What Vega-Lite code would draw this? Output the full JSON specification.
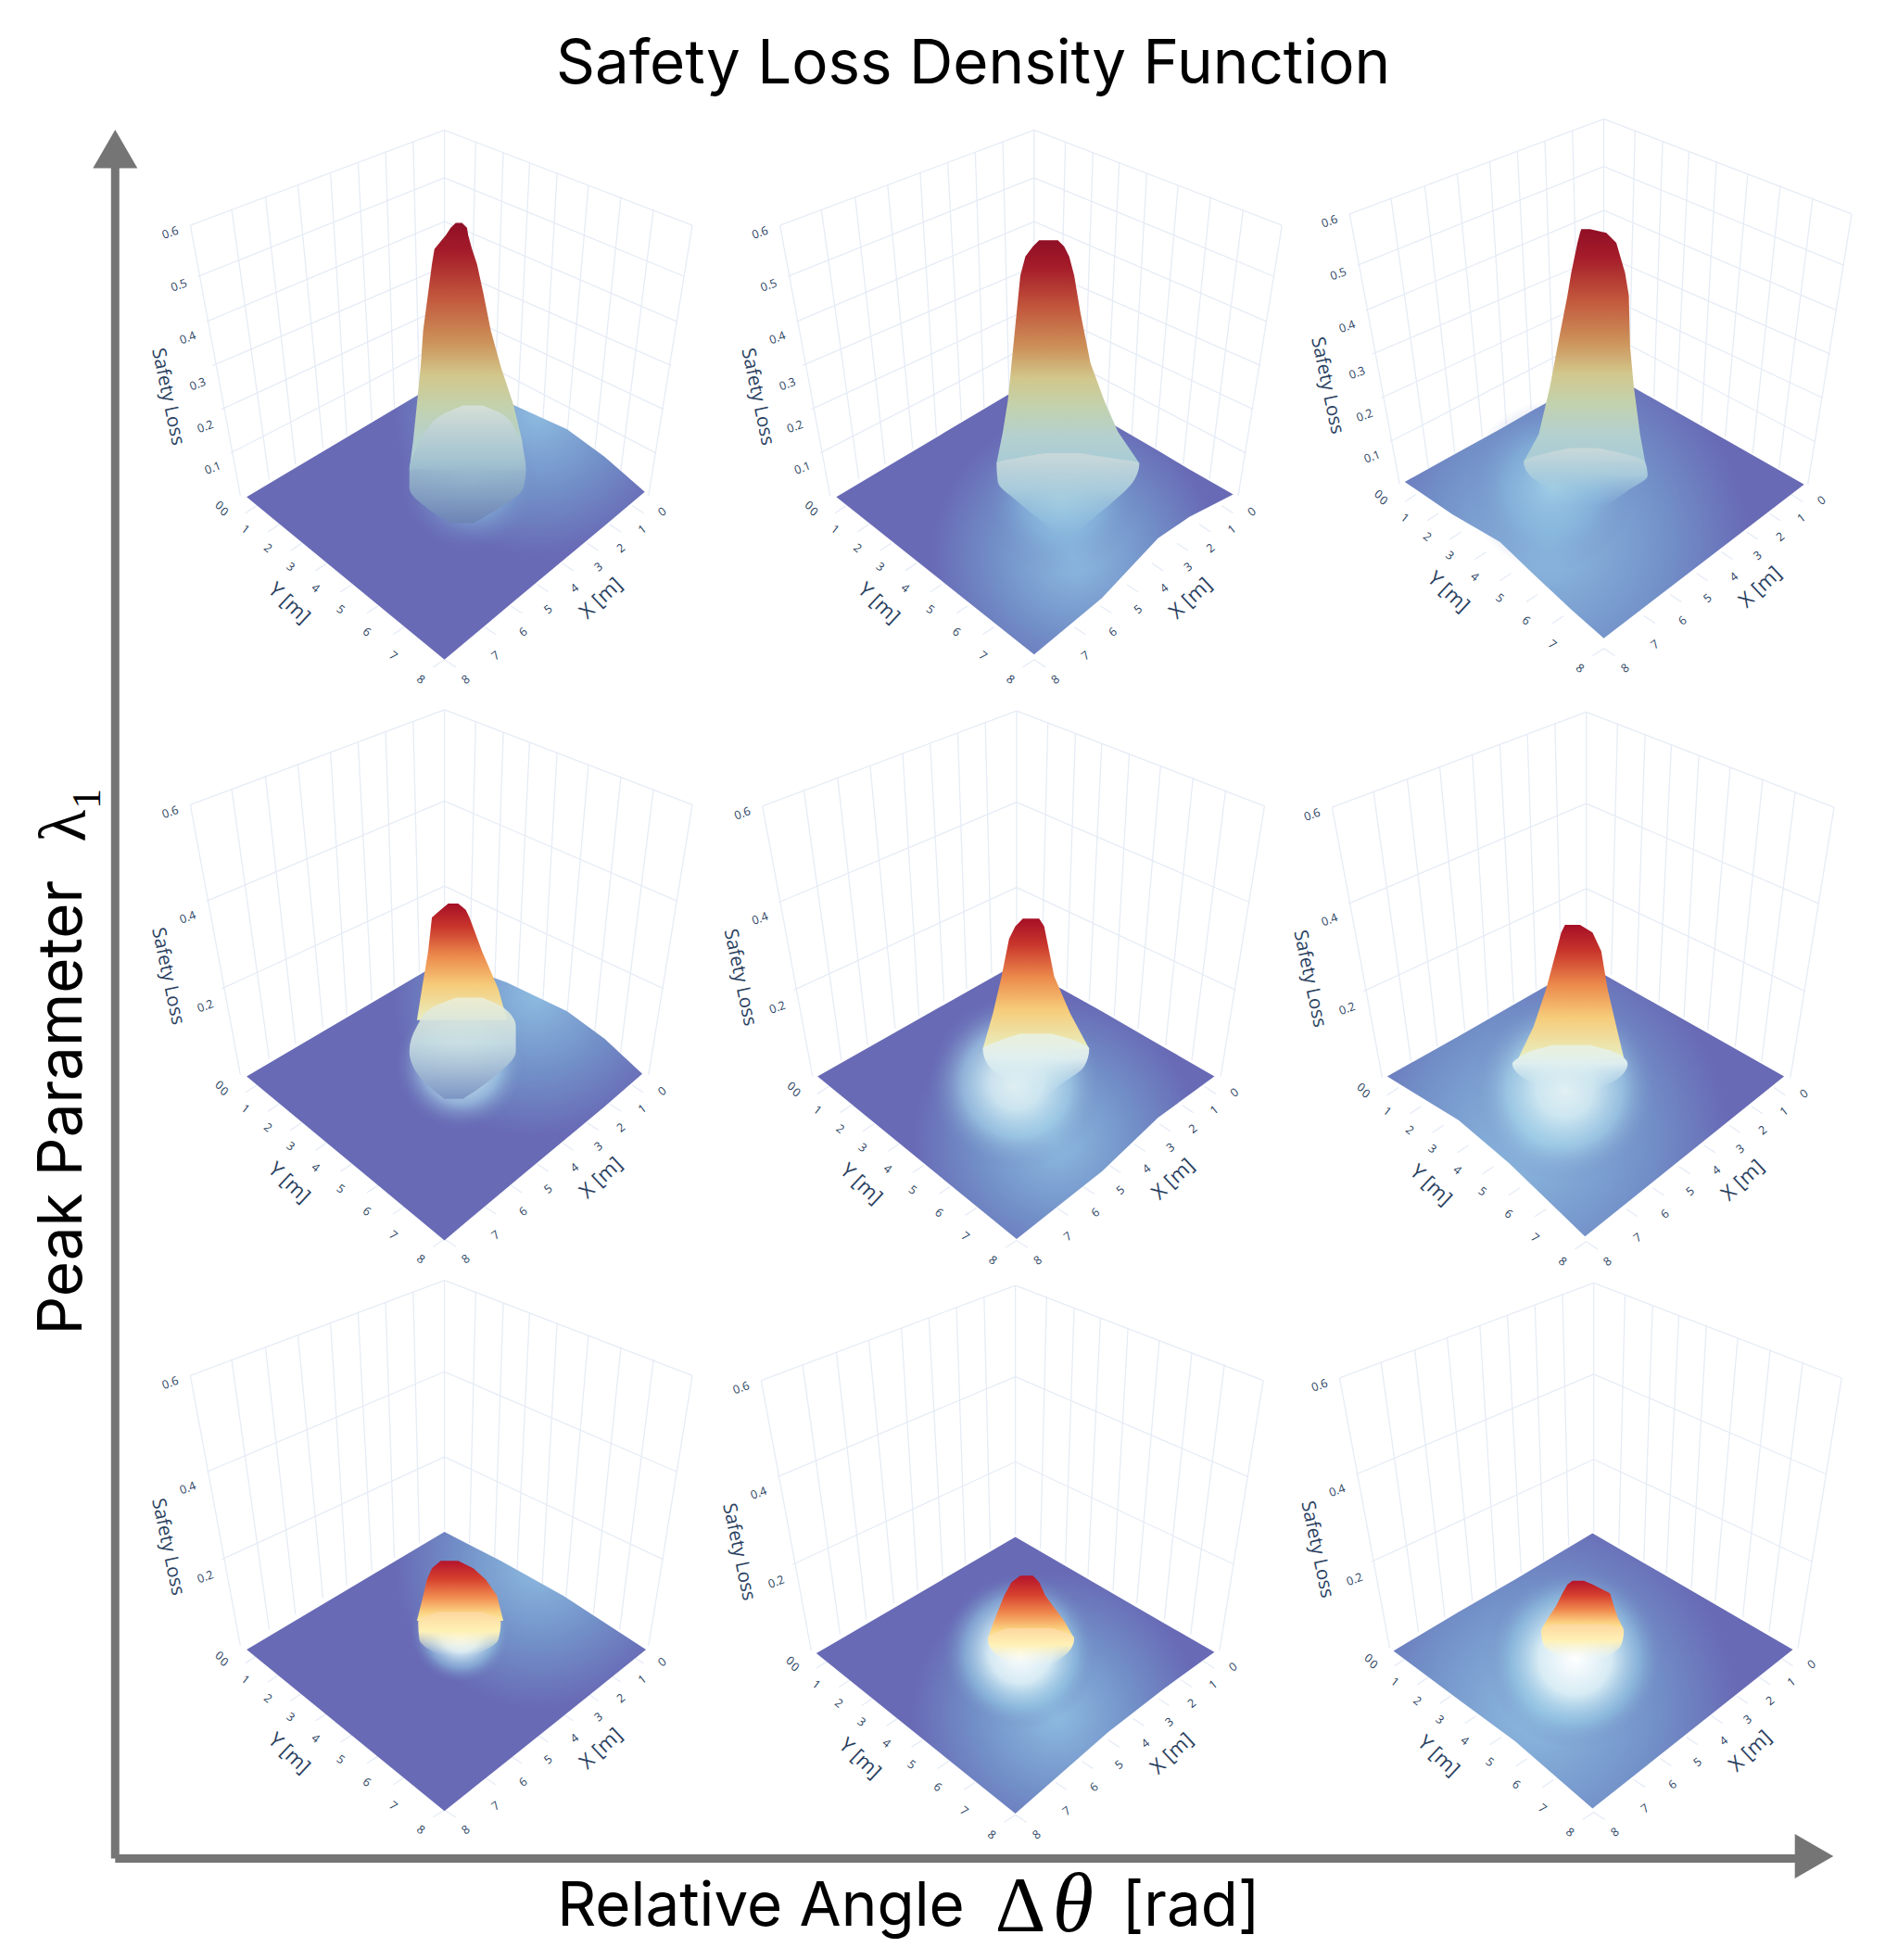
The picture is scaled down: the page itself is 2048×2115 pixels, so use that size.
{"$schema":"https://vega.github.io/schema/vega-lite/v6.json","width":2048,"height":2115,"padding":0,"autosize":{"type":"none"},"background":"white",
"title":{"text":"Safety Loss Density Function","font":"Inter","fontSize":65.5,"fontWeight":400,"color":"#000000","anchor":"middle","frame":"group","dx":26,"dy":107},
"config":{"view":{"stroke":null},"text":{"font":"Open Sans","color":"#2a3f5f","align":"center","baseline":"middle"},"rule":{"color":"#e6ecf6","strokeWidth":1.3}},
"datasets":{
"frame":[{"x":192,"y":396,"x2":152,"y2":180},{"x":215,"y":383,"x2":185,"y2":167},{"x":236,"y":371,"x2":212,"y2":157},{"x":258,"y":358,"x2":238,"y2":148},{"x":277,"y":348,"x2":264,"y2":138},{"x":297,"y":336,"x2":286,"y2":130},{"x":315,"y":326,"x2":308,"y2":122},{"x":335,"y":314,"x2":330,"y2":113},{"x":355,"y":303,"x2":355,"y2":104},{"x":518,"y":396,"x2":553,"y2":180},{"x":495,"y":383,"x2":522,"y2":167},{"x":474,"y":371,"x2":496,"y2":157},{"x":452,"y":358,"x2":470,"y2":148},{"x":433,"y":348,"x2":445,"y2":138},{"x":413,"y":336,"x2":423,"y2":130},{"x":395,"y":326,"x2":402,"y2":122},{"x":375,"y":314,"x2":380,"y2":113},{"x":152,"y":180,"x2":355,"y2":104},{"x":165,"y":257,"x2":355,"y2":177},{"x":177,"y":327,"x2":355,"y2":245},{"x":553,"y":180,"x2":355,"y2":104},{"x":541,"y":257,"x2":355,"y2":177},{"x":530,"y":327,"x2":355,"y2":245},
{"x":205,"y":404,"x2":196,"y2":410},{"x":223,"y":419,"x2":214,"y2":425},{"x":241,"y":434,"x2":232,"y2":440},{"x":261,"y":450,"x2":252,"y2":456},{"x":281,"y":467,"x2":272,"y2":473},{"x":302,"y":484,"x2":293,"y2":490},{"x":323,"y":501,"x2":314,"y2":507},{"x":505,"y":404,"x2":514,"y2":410},{"x":487,"y":419,"x2":496,"y2":425},{"x":469,"y":434,"x2":478,"y2":440},{"x":449,"y":450,"x2":458,"y2":456},{"x":429,"y":467,"x2":438,"y2":473},{"x":408,"y":484,"x2":417,"y2":490},{"x":387,"y":501,"x2":396,"y2":507},{"x":355,"y":527,"x2":346,"y2":533},{"x":355,"y":527,"x2":364,"y2":533}],
"frameTenths":[{"x":158,"y":221,"x2":355,"y2":142},{"x":170,"y":292,"x2":355,"y2":213},{"x":184,"y":362,"x2":355,"y2":274},{"x":547,"y":221,"x2":355,"y2":142},{"x":536,"y":292,"x2":355,"y2":213},{"x":524,"y":362,"x2":355,"y2":274}],
"labels":[{"x":175,"y":404,"t":"0","kind":"y"},{"x":179,"y":409,"t":"0","kind":"y"},{"x":196,"y":423,"t":"1","kind":"y"},{"x":214,"y":438,"t":"2","kind":"y"},{"x":232,"y":453,"t":"3","kind":"y"},{"x":252,"y":470,"t":"4","kind":"y"},{"x":272,"y":487,"t":"5","kind":"y"},{"x":293,"y":505,"t":"6","kind":"y"},{"x":314,"y":524,"t":"7","kind":"y"},{"x":336,"y":543,"t":"8","kind":"y"},{"x":529,"y":409,"t":"0","kind":"x"},{"x":513,"y":423,"t":"1","kind":"x"},{"x":496,"y":438,"t":"2","kind":"x"},{"x":478,"y":453,"t":"3","kind":"x"},{"x":459,"y":470,"t":"4","kind":"x"},{"x":438,"y":487,"t":"5","kind":"x"},{"x":418,"y":505,"t":"6","kind":"x"},{"x":396,"y":524,"t":"7","kind":"x"},{"x":372,"y":543,"t":"8","kind":"x"},{"x":136,"y":186,"t":"0.6","kind":"z"},{"x":150,"y":270,"t":"0.4","kind":"z"},{"x":164,"y":341,"t":"0.2","kind":"z"},{"x":480,"y":478,"t":"X [m]","kind":"xtitle"},{"x":231,"y":482,"t":"Y [m]","kind":"ytitle"},{"x":134,"y":317,"t":"Safety Loss","kind":"ztitle"}],
"labelsTenths":[{"x":143,"y":228,"t":"0.5","kind":"z"},{"x":158,"y":307,"t":"0.3","kind":"z"},{"x":170,"y":374,"t":"0.1","kind":"z"}],
"floor":[{"panel":1,"x":197,"y":397,"y2":397},{"panel":1,"x":355,"y":303,"y2":527},{"panel":1,"x":411,"y":324,"y2":480},{"panel":1,"x":453,"y":343,"y2":445},{"panel":1,"x":483,"y":365,"y2":420},{"panel":1,"x":515,"y":393,"y2":393},
{"panel":2,"x":668,"y":397,"y2":397},{"panel":2,"x":826,"y":303,"y2":523},{"panel":2,"x":880,"y":334,"y2":478},{"panel":2,"x":925,"y":360,"y2":430},{"panel":2,"x":950,"y":375,"y2":413},{"panel":2,"x":985,"y":395,"y2":395},
{"panel":3,"x":1122,"y":385,"y2":385},{"panel":3,"x":1160,"y":364,"y2":411},{"panel":3,"x":1198,"y":343,"y2":433},{"panel":3,"x":1224,"y":328,"y2":458},{"panel":3,"x":1255,"y":311,"y2":487},{"panel":3,"x":1281,"y":296,"y2":510},{"panel":3,"x":1441,"y":387,"y2":387},
{"panel":4,"x":197,"y":860,"y2":860},{"panel":4,"x":355,"y":767,"y2":991},{"panel":4,"x":405,"y":785,"y2":949},{"panel":4,"x":453,"y":808,"y2":909},{"panel":4,"x":483,"y":830,"y2":884},{"panel":4,"x":513,"y":858,"y2":858},
{"panel":5,"x":653,"y":860,"y2":860},{"panel":5,"x":812,"y":770,"y2":990},{"panel":5,"x":880,"y":808,"y2":936},{"panel":5,"x":925,"y":834,"y2":893},{"panel":5,"x":970,"y":860,"y2":860},
{"panel":6,"x":1108,"y":860,"y2":860},{"panel":6,"x":1165,"y":828,"y2":895},{"panel":6,"x":1205,"y":805,"y2":929},{"panel":6,"x":1266,"y":770,"y2":988},{"panel":6,"x":1425,"y":860,"y2":860},
{"panel":7,"x":197,"y":1318,"y2":1318},{"panel":7,"x":355,"y":1224,"y2":1447},{"panel":7,"x":400,"y":1247,"y2":1411},{"panel":7,"x":450,"y":1275,"y2":1371},{"panel":7,"x":516,"y":1318,"y2":1318},
{"panel":8,"x":652,"y":1321,"y2":1321},{"panel":8,"x":811,"y":1228,"y2":1449},{"panel":8,"x":885,"y":1271,"y2":1384},{"panel":8,"x":930,"y":1297,"y2":1349},{"panel":8,"x":970,"y":1320,"y2":1320},
{"panel":9,"x":1113,"y":1319,"y2":1319},{"panel":9,"x":1165,"y":1288,"y2":1358},{"panel":9,"x":1210,"y":1262,"y2":1391},{"panel":9,"x":1272,"y":1225,"y2":1445},{"panel":9,"x":1432,"y":1318,"y2":1318}],
"glow":[{"panel":1,"x":320,"x2":430,"y":330,"y2":440},{"panel":2,"x":786,"x2":910,"y":335,"y2":459},{"panel":3,"x":1172,"x2":1308,"y":320,"y2":456},
{"panel":4,"x":316,"x2":420,"y":798,"y2":902},{"panel":5,"x":742,"x2":882,"y":795,"y2":935},{"panel":6,"x":1175,"x2":1325,"y":795,"y2":945},
{"panel":7,"x":328,"x2":408,"y":1264,"y2":1344},{"panel":8,"x":753,"x2":877,"y":1258,"y2":1382},{"panel":9,"x":1186,"x2":1330,"y":1253,"y2":1397}],
"peak":[{"panel":1,"y":178,"x":364,"x2":369},{"panel":1,"y":182,"x":360,"x2":373},{"panel":1,"y":188,"x":356,"x2":374},{"panel":1,"y":199,"x":347,"x2":377},{"panel":1,"y":211,"x":345,"x2":381},{"panel":1,"y":234,"x":342,"x2":386},{"panel":1,"y":264,"x":338,"x2":392},{"panel":1,"y":293,"x":336,"x2":400},{"panel":1,"y":323,"x":333,"x2":410},{"panel":1,"y":352,"x":330,"x2":417},{"panel":1,"y":375,"x":327,"x2":420},
{"panel":2,"y":192,"x":830,"x2":845},{"panel":2,"y":197,"x":825,"x2":850},{"panel":2,"y":205,"x":819,"x2":854},{"panel":2,"y":220,"x":815,"x2":858},{"panel":2,"y":250,"x":812,"x2":863},{"panel":2,"y":290,"x":808,"x2":871},{"panel":2,"y":320,"x":805,"x2":882},{"panel":2,"y":345,"x":801,"x2":893},{"panel":2,"y":370,"x":796,"x2":910},
{"panel":3,"y":183,"x":1263,"x2":1270},{"panel":3,"y":186,"x":1262,"x2":1283},{"panel":3,"y":194,"x":1260,"x2":1291},{"panel":3,"y":218,"x":1255,"x2":1298},{"panel":3,"y":236,"x":1252,"x2":1301},{"panel":3,"y":277,"x":1244,"x2":1302},{"panel":3,"y":309,"x":1238,"x2":1305},{"panel":3,"y":347,"x":1229,"x2":1310},{"panel":3,"y":369,"x":1217,"x2":1314},
{"panel":4,"y":722,"x":358,"x2":366},{"panel":4,"y":727,"x":352,"x2":372},{"panel":4,"y":733,"x":345,"x2":375},{"panel":4,"y":760,"x":342,"x2":385},{"panel":4,"y":790,"x":337,"x2":398},{"panel":4,"y":815,"x":333,"x2":405},
{"panel":5,"y":734,"x":817,"x2":830},{"panel":5,"y":740,"x":811,"x2":834},{"panel":5,"y":750,"x":806,"x2":836},{"panel":5,"y":780,"x":800,"x2":842},{"panel":5,"y":810,"x":793,"x2":855},{"panel":5,"y":838,"x":785,"x2":870},
{"panel":6,"y":739,"x":1250,"x2":1262},{"panel":6,"y":745,"x":1247,"x2":1272},{"panel":6,"y":760,"x":1243,"x2":1279},{"panel":6,"y":790,"x":1235,"x2":1284},{"panel":6,"y":820,"x":1225,"x2":1291},{"panel":6,"y":845,"x":1213,"x2":1297},
{"panel":7,"y":1247,"x":352,"x2":366},{"panel":7,"y":1253,"x":345,"x2":378},{"panel":7,"y":1262,"x":341,"x2":388},{"panel":7,"y":1275,"x":338,"x2":397},{"panel":7,"y":1295,"x":333,"x2":402},
{"panel":8,"y":1259,"x":815,"x2":825},{"panel":8,"y":1264,"x":808,"x2":830},{"panel":8,"y":1275,"x":802,"x2":835},{"panel":8,"y":1295,"x":794,"x2":850},{"panel":8,"y":1309,"x":789,"x2":858},
{"panel":9,"y":1263,"x":1256,"x2":1265},{"panel":9,"y":1266,"x":1252,"x2":1272},{"panel":9,"y":1273,"x":1248,"x2":1286},{"panel":9,"y":1283,"x":1243,"x2":1289},{"panel":9,"y":1292,"x":1237,"x2":1292},{"panel":9,"y":1302,"x":1231,"x2":1297}],
"dome":[{"panel":1,"y":324,"x":370,"x2":385},{"panel":1,"y":332,"x":352,"x2":403},{"panel":1,"y":345,"x":340,"x2":412},{"panel":1,"y":360,"x":332,"x2":418},{"panel":1,"y":375,"x":327,"x2":420},{"panel":1,"y":390,"x":327,"x2":418},{"panel":1,"y":405,"x":340,"x2":400},{"panel":1,"y":418,"x":360,"x2":378},
{"panel":2,"y":362,"x":835,"x2":862},{"panel":2,"y":366,"x":812,"x2":888},{"panel":2,"y":370,"x":796,"x2":910},{"panel":2,"y":385,"x":797,"x2":905},{"panel":2,"y":400,"x":812,"x2":890},{"panel":2,"y":415,"x":830,"x2":872},{"panel":2,"y":428,"x":845,"x2":858},
{"panel":3,"y":358,"x":1255,"x2":1275},{"panel":3,"y":362,"x":1235,"x2":1295},{"panel":3,"y":369,"x":1217,"x2":1314},{"panel":3,"y":380,"x":1222,"x2":1316},{"panel":3,"y":392,"x":1240,"x2":1300},{"panel":3,"y":405,"x":1260,"x2":1282},
{"panel":4,"y":797,"x":365,"x2":385},{"panel":4,"y":805,"x":345,"x2":402},{"panel":4,"y":820,"x":333,"x2":412},{"panel":4,"y":840,"x":327,"x2":412},{"panel":4,"y":860,"x":335,"x2":395},{"panel":4,"y":878,"x":355,"x2":370},
{"panel":5,"y":826,"x":815,"x2":840},{"panel":5,"y":832,"x":797,"x2":860},{"panel":5,"y":838,"x":785,"x2":870},{"panel":5,"y":852,"x":790,"x2":866},{"panel":5,"y":866,"x":808,"x2":848},{"panel":5,"y":876,"x":820,"x2":836},
{"panel":6,"y":835,"x":1240,"x2":1270},{"panel":6,"y":840,"x":1222,"x2":1288},{"panel":6,"y":845,"x":1213,"x2":1297},{"panel":6,"y":850,"x":1208,"x2":1300},{"panel":6,"y":862,"x":1218,"x2":1292},{"panel":6,"y":872,"x":1240,"x2":1270},
{"panel":7,"y":1288,"x":350,"x2":385},{"panel":7,"y":1296,"x":334,"x2":400},{"panel":7,"y":1310,"x":335,"x2":398},{"panel":7,"y":1322,"x":350,"x2":380},
{"panel":8,"y":1301,"x":805,"x2":840},{"panel":8,"y":1306,"x":792,"x2":855},{"panel":8,"y":1309,"x":789,"x2":858},{"panel":8,"y":1318,"x":792,"x2":855},{"panel":8,"y":1330,"x":808,"x2":840},
{"panel":9,"y":1298,"x":1240,"x2":1285},{"panel":9,"y":1303,"x":1231,"x2":1297},{"panel":9,"y":1314,"x":1233,"x2":1295},{"panel":9,"y":1326,"x":1250,"x2":1280}]
},
"resolve":{"scale":{"x":"independent","y":"independent"}},
"layer":[
{"encoding":{"x":{"field":"x","type":"quantitative","axis":null,"scale":{"domain":[0,1516]}},"y":{"field":"y","type":"quantitative","axis":null,"scale":{"domain":[1566,0]}}},"layer":[
{"data":{"name":"frame"},"mark":"rule","encoding":{"x2":{"field":"x2"},"y2":{"field":"y2"}}},
{"data":{"name":"frameTenths"},"mark":"rule","encoding":{"x2":{"field":"x2"},"y2":{"field":"y2"}}},
{"data":{"name":"labels"},"mark":"text","encoding":{"text":{"field":"t"},"angle":{"field":"kind","type":"nominal","scale":{"type":"ordinal","domain":["x","y","z","xtitle","ytitle","ztitle"],"range":[322,38,340,317,43,78]},"legend":null},"size":{"field":"kind","type":"nominal","scale":{"type":"ordinal","domain":["x","y","z","xtitle","ytitle","ztitle"],"range":[12.5,12.5,12.5,22,22,20.5]},"legend":null}}},
{"data":{"name":"labelsTenths"},"mark":{"type":"text","angle":340,"fontSize":12.5},"encoding":{"text":{"field":"t"}}}]},
{"encoding":{"x":{"field":"x","type":"quantitative","axis":null,"scale":{"domain":[-471,1045]}},"y":{"field":"y","type":"quantitative","axis":null,"scale":{"domain":[1566,0]}}},"layer":[
{"data":{"name":"frame"},"mark":"rule","encoding":{"x2":{"field":"x2"},"y2":{"field":"y2"}}},
{"data":{"name":"frameTenths"},"mark":"rule","encoding":{"x2":{"field":"x2"},"y2":{"field":"y2"}}},
{"data":{"name":"labels"},"mark":"text","encoding":{"text":{"field":"t"},"angle":{"field":"kind","type":"nominal","scale":{"type":"ordinal","domain":["x","y","z","xtitle","ytitle","ztitle"],"range":[322,38,340,317,43,78]},"legend":null},"size":{"field":"kind","type":"nominal","scale":{"type":"ordinal","domain":["x","y","z","xtitle","ytitle","ztitle"],"range":[12.5,12.5,12.5,22,22,20.5]},"legend":null}}},
{"data":{"name":"labelsTenths"},"mark":{"type":"text","angle":340,"fontSize":12.5},"encoding":{"text":{"field":"t"}}}]},
{"encoding":{"x":{"field":"x","type":"quantitative","axis":null,"scale":{"domain":[-926,590]}},"y":{"field":"y","type":"quantitative","axis":null,"scale":{"domain":[1575,9]}}},"layer":[
{"data":{"name":"frame"},"mark":"rule","encoding":{"x2":{"field":"x2"},"y2":{"field":"y2"}}},
{"data":{"name":"frameTenths"},"mark":"rule","encoding":{"x2":{"field":"x2"},"y2":{"field":"y2"}}},
{"data":{"name":"labels"},"mark":"text","encoding":{"text":{"field":"t"},"angle":{"field":"kind","type":"nominal","scale":{"type":"ordinal","domain":["x","y","z","xtitle","ytitle","ztitle"],"range":[322,38,340,317,43,78]},"legend":null},"size":{"field":"kind","type":"nominal","scale":{"type":"ordinal","domain":["x","y","z","xtitle","ytitle","ztitle"],"range":[12.5,12.5,12.5,22,22,20.5]},"legend":null}}},
{"data":{"name":"labelsTenths"},"mark":{"type":"text","angle":340,"fontSize":12.5},"encoding":{"text":{"field":"t"}}}]},
{"encoding":{"x":{"field":"x","type":"quantitative","axis":null,"scale":{"domain":[0,1516]}},"y":{"field":"y","type":"quantitative","axis":null,"scale":{"domain":[1103,-463]}}},"layer":[
{"data":{"name":"frame"},"mark":"rule","encoding":{"x2":{"field":"x2"},"y2":{"field":"y2"}}},
{"data":{"name":"labels"},"mark":"text","encoding":{"text":{"field":"t"},"angle":{"field":"kind","type":"nominal","scale":{"type":"ordinal","domain":["x","y","z","xtitle","ytitle","ztitle"],"range":[322,38,340,317,43,78]},"legend":null},"size":{"field":"kind","type":"nominal","scale":{"type":"ordinal","domain":["x","y","z","xtitle","ytitle","ztitle"],"range":[12.5,12.5,12.5,22,22,20.5]},"legend":null}}}]},
{"encoding":{"x":{"field":"x","type":"quantitative","axis":null,"scale":{"domain":[-457,1059]}},"y":{"field":"y","type":"quantitative","axis":null,"scale":{"domain":[1102,-464]}}},"layer":[
{"data":{"name":"frame"},"mark":"rule","encoding":{"x2":{"field":"x2"},"y2":{"field":"y2"}}},
{"data":{"name":"labels"},"mark":"text","encoding":{"text":{"field":"t"},"angle":{"field":"kind","type":"nominal","scale":{"type":"ordinal","domain":["x","y","z","xtitle","ytitle","ztitle"],"range":[322,38,340,317,43,78]},"legend":null},"size":{"field":"kind","type":"nominal","scale":{"type":"ordinal","domain":["x","y","z","xtitle","ytitle","ztitle"],"range":[12.5,12.5,12.5,22,22,20.5]},"legend":null}}}]},
{"encoding":{"x":{"field":"x","type":"quantitative","axis":null,"scale":{"domain":[-912,604]}},"y":{"field":"y","type":"quantitative","axis":null,"scale":{"domain":[1101,-465]}}},"layer":[
{"data":{"name":"frame"},"mark":"rule","encoding":{"x2":{"field":"x2"},"y2":{"field":"y2"}}},
{"data":{"name":"labels"},"mark":"text","encoding":{"text":{"field":"t"},"angle":{"field":"kind","type":"nominal","scale":{"type":"ordinal","domain":["x","y","z","xtitle","ytitle","ztitle"],"range":[322,38,340,317,43,78]},"legend":null},"size":{"field":"kind","type":"nominal","scale":{"type":"ordinal","domain":["x","y","z","xtitle","ytitle","ztitle"],"range":[12.5,12.5,12.5,22,22,20.5]},"legend":null}}}]},
{"encoding":{"x":{"field":"x","type":"quantitative","axis":null,"scale":{"domain":[0,1516]}},"y":{"field":"y","type":"quantitative","axis":null,"scale":{"domain":[647,-919]}}},"layer":[
{"data":{"name":"frame"},"mark":"rule","encoding":{"x2":{"field":"x2"},"y2":{"field":"y2"}}},
{"data":{"name":"labels"},"mark":"text","encoding":{"text":{"field":"t"},"angle":{"field":"kind","type":"nominal","scale":{"type":"ordinal","domain":["x","y","z","xtitle","ytitle","ztitle"],"range":[322,38,340,317,43,78]},"legend":null},"size":{"field":"kind","type":"nominal","scale":{"type":"ordinal","domain":["x","y","z","xtitle","ytitle","ztitle"],"range":[12.5,12.5,12.5,22,22,20.5]},"legend":null}}}]},
{"encoding":{"x":{"field":"x","type":"quantitative","axis":null,"scale":{"domain":[-456,1060]}},"y":{"field":"y","type":"quantitative","axis":null,"scale":{"domain":[643,-923]}}},"layer":[
{"data":{"name":"frame"},"mark":"rule","encoding":{"x2":{"field":"x2"},"y2":{"field":"y2"}}},
{"data":{"name":"labels"},"mark":"text","encoding":{"text":{"field":"t"},"angle":{"field":"kind","type":"nominal","scale":{"type":"ordinal","domain":["x","y","z","xtitle","ytitle","ztitle"],"range":[322,38,340,317,43,78]},"legend":null},"size":{"field":"kind","type":"nominal","scale":{"type":"ordinal","domain":["x","y","z","xtitle","ytitle","ztitle"],"range":[12.5,12.5,12.5,22,22,20.5]},"legend":null}}}]},
{"encoding":{"x":{"field":"x","type":"quantitative","axis":null,"scale":{"domain":[-918,598]}},"y":{"field":"y","type":"quantitative","axis":null,"scale":{"domain":[645,-921]}}},"layer":[
{"data":{"name":"frame"},"mark":"rule","encoding":{"x2":{"field":"x2"},"y2":{"field":"y2"}}},
{"data":{"name":"labels"},"mark":"text","encoding":{"text":{"field":"t"},"angle":{"field":"kind","type":"nominal","scale":{"type":"ordinal","domain":["x","y","z","xtitle","ytitle","ztitle"],"range":[322,38,340,317,43,78]},"legend":null},"size":{"field":"kind","type":"nominal","scale":{"type":"ordinal","domain":["x","y","z","xtitle","ytitle","ztitle"],"range":[12.5,12.5,12.5,22,22,20.5]},"legend":null}}}]},
{"encoding":{"x":{"field":"x","type":"quantitative","axis":null,"scale":{"domain":[0,1516]}},"y":{"field":"y","type":"quantitative","axis":null,"scale":{"domain":[1566,0]}}},"layer":[
{"data":{"name":"floor"},"transform":[{"filter":{"field":"panel","oneOf":[1,4,7]}}],"mark":{"type":"area","fill":{"gradient":"radial","x1":0.73,"y1":0.23,"r1":0,"x2":0.73,"y2":0.23,"r2":0.36,"stops":[{"offset":0,"color":"#8dbbe0"},{"offset":0.55,"color":"#7290c8"},{"offset":1,"color":"#686ab5"}]}},"encoding":{"y2":{"field":"y2"},"detail":{"field":"panel"}}},
{"data":{"name":"floor"},"transform":[{"filter":{"field":"panel","oneOf":[2,5,8]}}],"mark":{"type":"area","fill":{"gradient":"radial","x1":0.6,"y1":0.6,"r1":0,"x2":0.6,"y2":0.6,"r2":0.36,"stops":[{"offset":0,"color":"#8dbbe0"},{"offset":0.55,"color":"#7290c8"},{"offset":1,"color":"#686ab5"}]}},"encoding":{"y2":{"field":"y2"},"detail":{"field":"panel"}}},
{"data":{"name":"floor"},"transform":[{"filter":{"field":"panel","oneOf":[3,6,9]}}],"mark":{"type":"area","fill":{"gradient":"radial","x1":0.36,"y1":0.6,"r1":0,"x2":0.36,"y2":0.6,"r2":0.5,"stops":[{"offset":0,"color":"#8dbbe0"},{"offset":0.6,"color":"#7290c8"},{"offset":1,"color":"#686ab5"}]}},"encoding":{"y2":{"field":"y2"},"detail":{"field":"panel"}}},
{"data":{"name":"glow"},"transform":[{"filter":{"field":"panel","oneOf":[1,2,3]}}],"mark":{"type":"rect","fill":{"gradient":"radial","x1":0.5,"y1":0.5,"r1":0,"x2":0.5,"y2":0.5,"r2":0.5,"stops":[{"offset":0,"color":"rgba(165,210,232,0.9)"},{"offset":0.55,"color":"rgba(135,185,222,0.5)"},{"offset":1,"color":"rgba(110,130,190,0)"}]}},"encoding":{"x2":{"field":"x2"},"y2":{"field":"y2"}}},
{"data":{"name":"glow"},"transform":[{"filter":{"field":"panel","oneOf":[4,5,6]}}],"mark":{"type":"rect","fill":{"gradient":"radial","x1":0.5,"y1":0.5,"r1":0,"x2":0.5,"y2":0.5,"r2":0.5,"stops":[{"offset":0,"color":"rgba(232,245,245,0.95)"},{"offset":0.3,"color":"rgba(215,238,244,0.88)"},{"offset":0.62,"color":"rgba(170,215,235,0.6)"},{"offset":1,"color":"rgba(110,130,190,0)"}]}},"encoding":{"x2":{"field":"x2"},"y2":{"field":"y2"}}},
{"data":{"name":"glow"},"transform":[{"filter":{"field":"panel","oneOf":[7,8,9]}}],"mark":{"type":"rect","fill":{"gradient":"radial","x1":0.5,"y1":0.5,"r1":0,"x2":0.5,"y2":0.5,"r2":0.5,"stops":[{"offset":0,"color":"rgba(255,255,255,1)"},{"offset":0.4,"color":"rgba(225,243,248,0.9)"},{"offset":0.72,"color":"rgba(150,200,228,0.55)"},{"offset":1,"color":"rgba(110,130,190,0)"}]}},"encoding":{"x2":{"field":"x2"},"y2":{"field":"y2"}}},
{"data":{"name":"peak"},"transform":[{"filter":{"field":"panel","oneOf":[1,2,3]}}],"mark":{"type":"area","orient":"horizontal","fill":{"gradient":"linear","x1":0,"y1":0,"x2":0,"y2":1,"stops":[{"offset":0,"color":"#8f0f25"},{"offset":0.12,"color":"#a51c2a"},{"offset":0.3,"color":"#c2563c"},{"offset":0.48,"color":"#cc9159"},{"offset":0.62,"color":"#d2c78c"},{"offset":0.75,"color":"#c2d2ae"},{"offset":0.88,"color":"#b4d0cf"},{"offset":1,"color":"#a8cbd6"}]}},"encoding":{"x2":{"field":"x2"},"detail":{"field":"panel"}}},
{"data":{"name":"peak"},"transform":[{"filter":{"field":"panel","oneOf":[4,5,6]}}],"mark":{"type":"area","orient":"horizontal","fill":{"gradient":"linear","x1":0,"y1":0,"x2":0,"y2":1,"stops":[{"offset":0,"color":"#a50f26"},{"offset":0.2,"color":"#c9362c"},{"offset":0.45,"color":"#ec8a4c"},{"offset":0.7,"color":"#f6cc7a"},{"offset":1,"color":"#e8eec0"}]}},"encoding":{"x2":{"field":"x2"},"detail":{"field":"panel"}}},
{"data":{"name":"peak"},"transform":[{"filter":{"field":"panel","oneOf":[7,8,9]}}],"mark":{"type":"area","orient":"horizontal","fill":{"gradient":"linear","x1":0,"y1":0,"x2":0,"y2":1,"stops":[{"offset":0,"color":"#b5142c"},{"offset":0.3,"color":"#d6402e"},{"offset":0.6,"color":"#f08a4f"},{"offset":0.85,"color":"#fbd07f"},{"offset":1,"color":"#fdeca6"}]}},"encoding":{"x2":{"field":"x2"},"detail":{"field":"panel"}}},
{"data":{"name":"dome"},"transform":[{"filter":{"field":"panel","oneOf":[1]}}],"mark":{"type":"area","orient":"horizontal","interpolate":"monotone","fill":{"gradient":"linear","x1":0,"y1":0,"x2":0,"y2":1,"stops":[{"offset":0,"color":"rgba(214,224,218,0.9)"},{"offset":0.5,"color":"rgba(159,191,207,0.9)"},{"offset":1,"color":"#6c84b6"}]}},"encoding":{"x2":{"field":"x2"},"detail":{"field":"panel"}}},
{"data":{"name":"dome"},"transform":[{"filter":{"field":"panel","oneOf":[4]}}],"mark":{"type":"area","orient":"horizontal","interpolate":"monotone","fill":{"gradient":"linear","x1":0,"y1":0,"x2":0,"y2":1,"stops":[{"offset":0,"color":"rgba(236,238,214,0.9)"},{"offset":0.45,"color":"rgba(200,222,226,0.9)"},{"offset":1,"color":"#7c96c4"}]}},"encoding":{"x2":{"field":"x2"},"detail":{"field":"panel"}}},
{"data":{"name":"dome"},"transform":[{"filter":{"field":"panel","oneOf":[2,3]}}],"mark":{"type":"area","orient":"horizontal","interpolate":"monotone","fill":{"gradient":"linear","x1":0,"y1":0,"x2":0,"y2":1,"stops":[{"offset":0,"color":"#c9d8d9"},{"offset":0.45,"color":"rgba(170,205,220,0.95)"},{"offset":1,"color":"rgba(150,200,228,0)"}]}},"encoding":{"x2":{"field":"x2"},"detail":{"field":"panel"}}},
{"data":{"name":"dome"},"transform":[{"filter":{"field":"panel","oneOf":[5,6]}}],"mark":{"type":"area","orient":"horizontal","interpolate":"monotone","fill":{"gradient":"linear","x1":0,"y1":0,"x2":0,"y2":1,"stops":[{"offset":0,"color":"#e9f0dc"},{"offset":0.4,"color":"rgba(225,240,240,0.95)"},{"offset":1,"color":"rgba(200,230,240,0)"}]}},"encoding":{"x2":{"field":"x2"},"detail":{"field":"panel"}}},
{"data":{"name":"dome"},"transform":[{"filter":{"field":"panel","oneOf":[7,8,9]}}],"mark":{"type":"area","orient":"horizontal","interpolate":"monotone","fill":{"gradient":"linear","x1":0,"y1":0,"x2":0,"y2":1,"stops":[{"offset":0,"color":"#fdd79f"},{"offset":0.45,"color":"#fff1b5"},{"offset":1,"color":"rgba(250,250,235,0)"}]}},"encoding":{"x2":{"field":"x2"},"detail":{"field":"panel"}}},
{"data":{"values":[{"x":92,"y":1485,"x2":92,"y2":130},{"x":92,"y":1485,"x2":1440,"y2":1485}]},"mark":{"type":"rule","color":"#757575","strokeWidth":9},"encoding":{"x2":{"field":"x2"},"y2":{"field":"y2"}}},
{"data":{"values":[{"x":92,"y":119}]},"mark":{"type":"point","shape":"triangle-up","filled":true,"opacity":1,"color":"#757575","size":2304}},
{"data":{"values":[{"x":1449,"y":1483}]},"mark":{"type":"point","shape":"triangle-right","filled":true,"opacity":1,"color":"#757575","size":2304}},
{"data":{"values":[{"x":445,"y":1524,"t":"Relative Angle"},{"x":896,"y":1524,"t":"[rad]"}]},"mark":{"type":"text","font":"Inter","fontSize":65.5,"color":"#000000","align":"left"},"encoding":{"text":{"field":"t"}}},
{"data":{"values":[{"x":815,"y":1524,"t":"Δ"}]},"mark":{"type":"text","font":"Liberation Serif","fontSize":85,"color":"#000000"},"encoding":{"text":{"field":"t"}}},
{"data":{"values":[{"x":857,"y":1523,"t":"θ"}]},"mark":{"type":"text","font":"Liberation Serif","fontStyle":"italic","fontSize":90,"color":"#000000"},"encoding":{"text":{"field":"t"}}},
{"data":{"values":[{"x":50,"y":885,"t":"Peak Parameter"}]},"mark":{"type":"text","font":"Inter","fontSize":65.5,"color":"#000000","angle":270},"encoding":{"text":{"field":"t"}}},
{"data":{"values":[{"x":52,"y":660,"t":"λ"}]},"mark":{"type":"text","font":"Liberation Serif","fontSize":72,"color":"#000000","angle":270},"encoding":{"text":{"field":"t"}}},
{"data":{"values":[{"x":70,"y":638,"t":"1"}]},"mark":{"type":"text","font":"Liberation Serif","fontSize":44,"color":"#000000","angle":270},"encoding":{"text":{"field":"t"}}}
]}
]}
